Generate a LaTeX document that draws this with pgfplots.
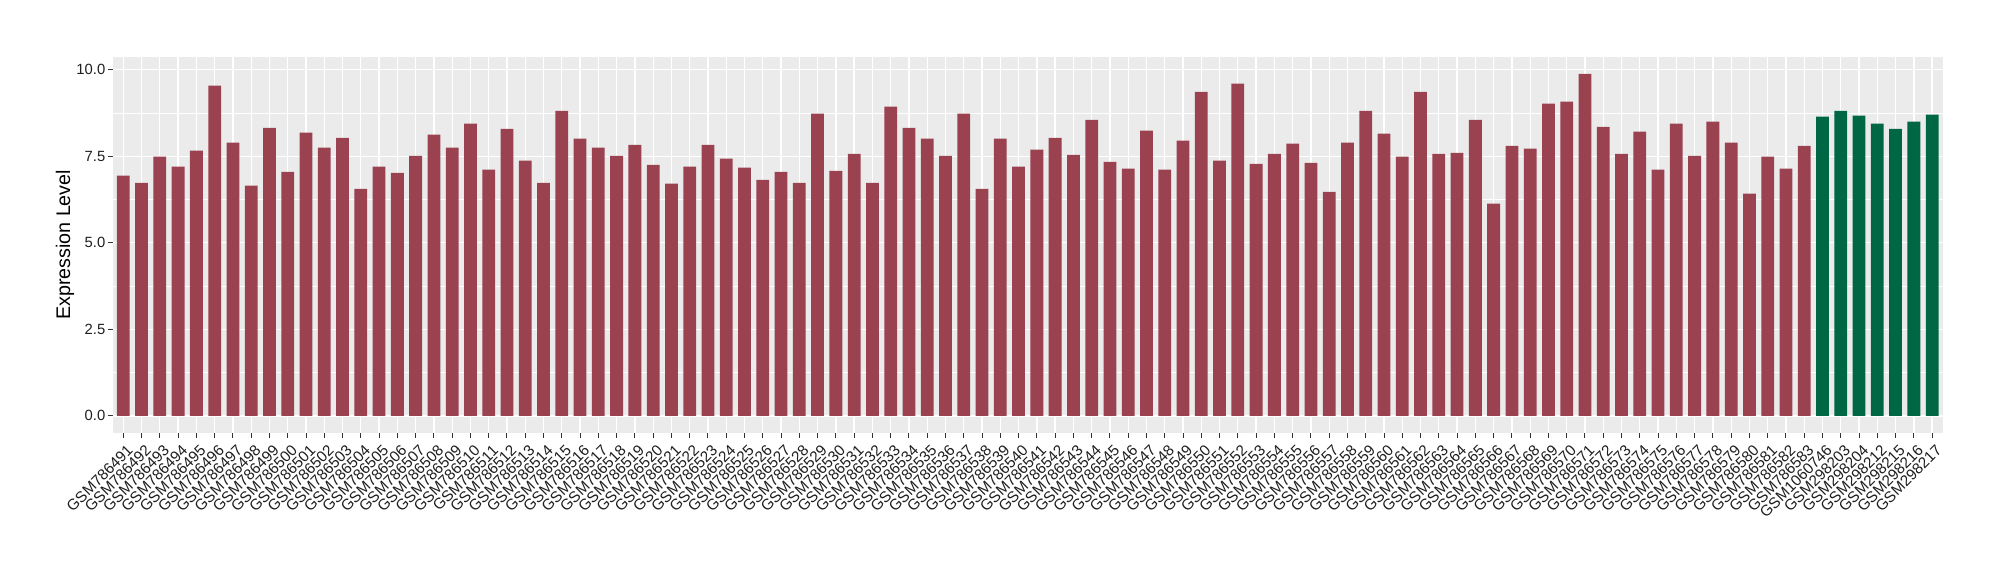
\documentclass[border=0pt]{standalone}
\usepackage{fontspec}
\setmainfont{Liberation Sans}
\usepackage{pgfplots}
\usepackage{pgfplotstable}
\pgfplotsset{compat=1.18}
\definecolor{barred}{HTML}{9B4251}
\definecolor{bargreen}{HTML}{006745}
\definecolor{panel}{HTML}{EBEBEB}
\definecolor{tickcol}{HTML}{333333}
\definecolor{labcol}{HTML}{1E1E1E}

\pgfplotstableread{
x y label
0 6.94 GSM786491
1 6.73 GSM786492
2 7.49 GSM786493
3 7.20 GSM786494
4 7.66 GSM786495
5 9.54 GSM786496
6 7.89 GSM786497
7 6.65 GSM786498
8 8.32 GSM786499
9 7.05 GSM786500
10 8.18 GSM786501
11 7.75 GSM786502
12 8.03 GSM786503
13 6.56 GSM786504
14 7.20 GSM786505
15 7.02 GSM786506
16 7.51 GSM786507
17 8.12 GSM786508
18 7.75 GSM786509
19 8.44 GSM786510
20 7.11 GSM786511
21 8.29 GSM786512
22 7.37 GSM786513
23 6.73 GSM786514
24 8.81 GSM786515
25 8.01 GSM786516
26 7.75 GSM786517
27 7.51 GSM786518
28 7.83 GSM786519
29 7.25 GSM786520
30 6.71 GSM786521
31 7.20 GSM786522
32 7.83 GSM786523
33 7.43 GSM786524
34 7.17 GSM786525
35 6.82 GSM786526
36 7.05 GSM786527
37 6.73 GSM786528
38 8.73 GSM786529
39 7.08 GSM786530
40 7.57 GSM786531
41 6.73 GSM786532
42 8.93 GSM786533
43 8.32 GSM786534
44 8.01 GSM786535
45 7.51 GSM786536
46 8.73 GSM786537
47 6.56 GSM786538
48 8.01 GSM786539
49 7.20 GSM786540
50 7.69 GSM786541
51 8.03 GSM786542
52 7.54 GSM786543
53 8.55 GSM786544
54 7.34 GSM786545
55 7.14 GSM786546
56 8.24 GSM786547
57 7.11 GSM786548
58 7.95 GSM786549
59 9.36 GSM786550
60 7.37 GSM786551
61 9.60 GSM786552
62 7.28 GSM786553
63 7.57 GSM786554
64 7.86 GSM786555
65 7.31 GSM786556
66 6.47 GSM786557
67 7.89 GSM786558
68 8.81 GSM786559
69 8.15 GSM786560
70 7.49 GSM786561
71 9.36 GSM786562
72 7.57 GSM786563
73 7.60 GSM786564
74 8.55 GSM786565
75 6.13 GSM786566
76 7.80 GSM786567
77 7.72 GSM786568
78 9.02 GSM786569
79 9.08 GSM786570
80 9.88 GSM786571
81 8.35 GSM786572
82 7.57 GSM786573
83 8.21 GSM786574
84 7.11 GSM786575
85 8.44 GSM786576
86 7.51 GSM786577
87 8.50 GSM786578
88 7.89 GSM786579
89 6.42 GSM786580
90 7.49 GSM786581
91 7.14 GSM786582
92 7.80 GSM786583
93 8.64 GSM1060746
94 8.81 GSM298203
95 8.67 GSM298204
96 8.44 GSM298212
97 8.29 GSM298215
98 8.50 GSM298216
99 8.70 GSM298217
}\alldata

\begin{document}
\begin{tikzpicture}
\useasboundingbox (0,0) rectangle (1000pt,290pt);
\begin{axis}[
  at={(56.35pt,73.5pt)}, anchor=south west,
  scale only axis, width=915pt, height=188.15pt,
  xmin=-0.58, xmax=99.58, ymin=-0.494, ymax=10.374,
  axis background/.style={fill=panel},
  axis line style={draw=none},
  xtick={0,...,99},
  xticklabels from table={\alldata}{label},
  ytick={0,2.5,5,7.5,10},
  yticklabels={0.0,2.5,5.0,7.5,10.0},
  minor ytick={1.25,3.75,6.25,8.75},
  xtick pos=lower, ytick pos=left,
  tick align=outside,
  major tick length=2.5pt, minor tick length=0pt,
  tick style={tickcol, line width=0.5pt},
  xmajorgrids, ymajorgrids, yminorgrids,
  major grid style={white, line width=0.65pt},
  minor grid style={white, line width=0.33pt},
  /pgf/number format/assume math mode=true,
  ticklabel style={font=\fontsize{7.4}{8}\selectfont, text=labcol},
  xticklabel style={rotate=45, anchor=north east, inner sep=1pt, yshift=-2pt, font=\fontsize{7.65}{8}\selectfont},
  yticklabel style={anchor=east, inner sep=1pt},
  every axis y label/.style={at={(rel axis cs:0,0.5)}, xshift=-23.85pt, rotate=90, anchor=center, font=\fontsize{9.85}{11}\selectfont, text=black},
  ylabel={Expression Level},
  clip=false,
]
\addplot[ybar, bar width=0.7, bar shift=0pt, fill=barred, draw=none, restrict x to domain=0:92] table[x=x,y=y]{\alldata};
\addplot[ybar, bar width=0.7, bar shift=0pt, fill=bargreen, draw=none, restrict x to domain=93:99] table[x=x,y=y]{\alldata};
\end{axis}
\end{tikzpicture}
\end{document}
